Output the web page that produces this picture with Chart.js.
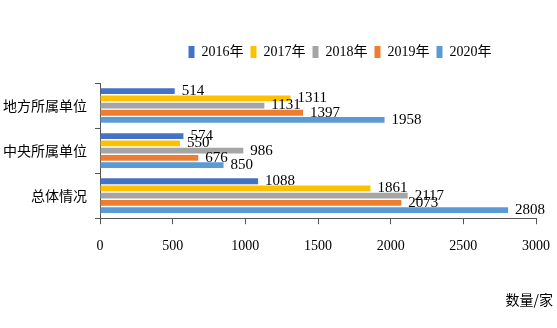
<!DOCTYPE html>
<html>
<head>
<meta charset="utf-8">
<script src="https://cdn.jsdelivr.net/npm/chart.js@4/dist/chart.umd.min.js"></script>
<style>
  html, body { margin: 0; padding: 0; background: #fff; }
  #wrap { width: 557px; height: 328px; }
</style>
</head>
<body>
<div id="wrap"><canvas id="chart"></canvas></div>
<script>
const categories = ['地方所属单位', '中央所属单位', '总体情况'];
const years = ['2016年', '2017年', '2018年', '2019年', '2020年'];
const values2016 = [514, 574, 1088];
const values2017 = [1311, 550, 1861];
const values2018 = [1131, 986, 2117];
const values2019 = [1397, 676, 2073];
const values2020 = [1958, 850, 2808];
const xTicks = [0, 500, 1000, 1500, 2000, 2500, 3000];
const axisTitle = '数量/家';

const colors = ['#4472C4', '#FFC000', '#A5A5A5', '#ED7D31', '#5B9BD5'];
const numFont = '"Liberation Serif", "Noto Sans CJK SC", serif';
const cjkFont = '"Noto Sans CJK SC", sans-serif';

// draw the value at the end of every bar, plus the axis unit bottom right
const barLabels = {
    id: 'barLabels',
    afterDatasetsDraw(chart) {
        const ctx = chart.ctx;
        ctx.save();
        ctx.font = '15px ' + numFont;
        ctx.fillStyle = '#000';
        ctx.textAlign = 'left';
        ctx.textBaseline = 'middle';
        chart.data.datasets.forEach((ds, i) => {
            chart.getDatasetMeta(i).data.forEach((bar, j) => {
                ctx.fillText(String(ds.data[j]), bar.x + 7, bar.y);
            });
        });
        ctx.font = '14px ' + cjkFont;
        ctx.textAlign = 'right';
        ctx.fillText(axisTitle, 553, 300);
        ctx.restore();
    }
};

// room between legend and plot, and legend sits a bit right of centre
const legendTweak = {
    id: 'legendTweak',
    beforeInit(chart) {
        const fit = chart.legend.fit;
        chart.legend.fit = function() {
            fit.bind(chart.legend)();
            this.height += 14;
        };
    },
    afterLayout(chart) {
        chart.legend.left += 22;
        chart.legend.right += 22;
    }
};

const series = [values2016, values2017, values2018, values2019, values2020];

new Chart(document.getElementById('chart').getContext('2d'), {
    type: 'bar',
    data: {
        labels: categories,
        datasets: series.map((vals, i) => ({
            label: years[i],
            data: vals,
            backgroundColor: colors[i],
            borderWidth: 0,
            barPercentage: 0.8,
            categoryPercentage: 0.8
        }))
    },
    options: {
        indexAxis: 'y',
        responsive: true,
        maintainAspectRatio: false,
        animation: false,
        layout: {
            padding: { top: 38, bottom: 59, left: 0, right: 0 }
        },
        plugins: {
            legend: {
                position: 'top',
                fullSize: false,
                labels: {
                    boxWidth: 6,
                    boxHeight: 12,
                    padding: 7,
                    color: '#000',
                    font: { size: 14, family: numFont }
                }
            },
            tooltip: { enabled: false }
        },
        scales: {
            x: {
                min: 0,
                max: 3000,
                afterBuildTicks: (axis) => { axis.ticks = xTicks.map(v => ({ value: v })); },
                afterFit: (axis) => { axis.paddingRight = 21; },
                grid: { drawOnChartArea: false, tickLength: 6, color: '#555' },
                border: { color: '#555' },
                ticks: {
                    color: '#000',
                    padding: 14,
                    maxRotation: 0,
                    callback: (v) => String(v),
                    font: { size: 14, family: numFont }
                }
            },
            y: {
                afterFit: (axis) => { axis.width = 100; },
                grid: { drawOnChartArea: false, tickLength: 5, color: '#555' },
                border: { color: '#555' },
                ticks: {
                    color: '#000',
                    padding: 8,
                    font: { size: 14, family: cjkFont }
                }
            }
        }
    },
    plugins: [barLabels, legendTweak]
});
</script>
</body>
</html>
